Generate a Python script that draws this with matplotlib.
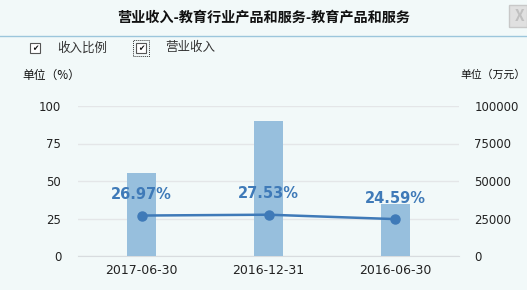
import matplotlib.pyplot as plt
from matplotlib.patches import Rectangle
from matplotlib.lines import Line2D

plt.rcParams['font.family'] = ['Noto Sans CJK SC', 'DejaVu Sans']

dates = ['2017-06-30', '2016-12-31', '2016-06-30']
revenue = [55300, 90000, 34700]      # 营业收入 (万元)
ratio = [26.97, 27.53, 24.59]        # 收入比例 (%)
left_ticks = [0, 25, 50, 75, 100]
right_ticks = [0, 25000, 50000, 75000, 100000]

bg = '#f2f9f9'
bar_c = '#97bfdd'
line_c = '#3f7ab8'

W, H = 527, 290
fig = plt.figure(figsize=(W / 100, H / 100), dpi=100, facecolor=bg)

def fx(px):
    return px / W

def fy(py):
    return 1 - py / H

ax = fig.add_axes([fx(78), fy(256), fx(459) - fx(78), fy(106) - fy(256)])
ax.set_facecolor(bg)
ax2 = ax.twinx()   # bars, right axis
ax3 = ax.twinx()   # line, same scale as left axis

x = list(range(len(dates)))
ax2.bar(x, revenue, width=0.236, color=bar_c, zorder=2)
ax2.set_ylim(0, 100000)
ax2.set_yticks(right_ticks)
ax2.set_yticklabels([str(v) for v in right_ticks])

ax.set_ylim(0, 100)
ax.set_xlim(-0.5, 2.5)
ax.set_yticks(left_ticks)
ax.grid(axis='y', color='#e4e6e8', lw=1)
ax.set_xticks(x)
ax.set_xticklabels(dates)

ax3.set_ylim(0, 100)
ax3.set_yticks([])
ax3.plot(x, ratio, color=line_c, lw=1.8, marker='o', ms=6.5, zorder=5)
for xi, r in zip(x, ratio):
    ax3.annotate(f'{r:.2f}%', (xi, r), xytext=(0, 15), textcoords='offset points',
                 ha='center', va='center', color=line_c, fontsize=10.5,
                 fontweight='bold', family='DejaVu Sans', zorder=6)

for a in (ax, ax2, ax3):
    for s in a.spines.values():
        s.set_visible(False)
    a.tick_params(length=0, labelsize=8.5, colors='#222222')
    for lab in a.get_xticklabels() + a.get_yticklabels():
        lab.set_family('DejaVu Sans')
ax.spines['bottom'].set_visible(True)
ax.spines['bottom'].set_color('#d8dcdf')
ax.tick_params(axis='y', pad=12)
ax2.tick_params(axis='y', pad=11)
ax.tick_params(axis='x', pad=6, labelsize=9)
ax.set_zorder(ax2.get_zorder() - 1)
ax2.patch.set_visible(False)
ax3.patch.set_visible(False)

# title and header
fig.text(fx(264), fy(18), '营业收入-教育行业产品和服务-教育产品和服务', ha='center', va='center',
         fontsize=10.2, fontweight='bold', color='#111111')
fig.add_artist(Line2D([0, 1], [fy(36), fy(36)], color='#9cc6dc', lw=1))
fig.add_artist(Rectangle((fx(509), fy(27)), fx(18), fy(5) - fy(27), facecolor='#e0e0e0',
                         edgecolor='#c8c8c8', lw=1))
fig.text(fx(520), fy(16), 'X', ha='center', va='center', fontsize=11, fontweight='bold',
         color='#c0c0c0')

# legend checkboxes
for bx, dotted in ((30, False), (136, True)):
    fig.add_artist(Rectangle((fx(bx), fy(53)), fx(10), fy(43) - fy(53), facecolor='white',
                             edgecolor='#555555', lw=0.8))
    fig.text(fx(bx + 5), fy(48), '✔', ha='center', va='center', fontsize=5.5,
             family='DejaVu Sans', color='#111111')
    if dotted:
        fig.add_artist(Rectangle((fx(bx - 3), fy(56)), fx(16), fy(40) - fy(56), facecolor='none',
                                 edgecolor='#333333', lw=0.7, ls=(0, (1, 1))))
fig.text(fx(57), fy(48), '收入比例', ha='left', va='center', fontsize=9, color='#333333')
fig.text(fx(165), fy(48), '营业收入', ha='left', va='center', fontsize=9, color='#333333')

fig.text(fx(22), fy(75), '单位（%）', ha='left', va='center', fontsize=8.5, color='#111111')
fig.text(fx(460), fy(75), '单位（万元）', ha='left', va='center', fontsize=7.8, color='#111111')

fig.savefig('out.png', dpi=100, facecolor=bg)
